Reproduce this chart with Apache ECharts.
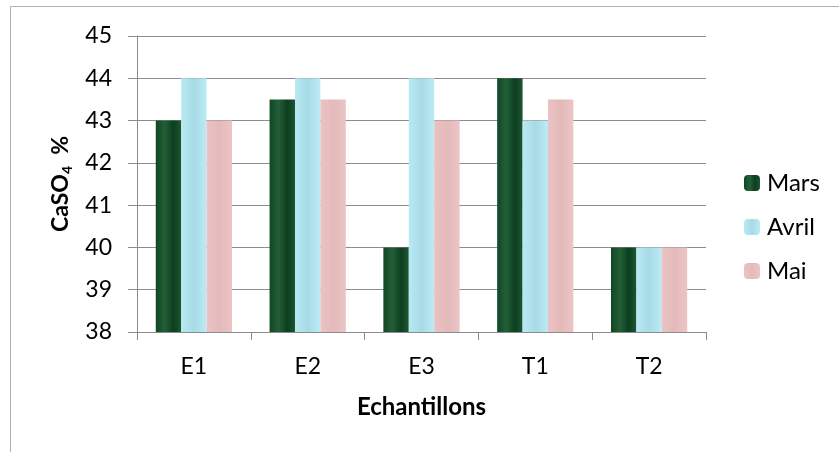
<!DOCTYPE html>
<html>
<head>
<meta charset="utf-8">
<script src="https://cdn.jsdelivr.net/npm/echarts@6/dist/echarts.min.js"></script>
<style>
  html, body { margin: 0; padding: 0; background: #fff; }
  #chart { width: 839px; height: 452px; }
</style>
</head>
<body>
<div id="chart"></div>
<script>
// Samples and monthly CaSO4 content (%)
var categories = ['E1', 'E2', 'E3', 'T1', 'T2'];
var mars  = [43, 43.5, 40, 44, 40];
var avril = [44, 44, 44, 43, 40];
var mai   = [43, 43.5, 43, 43.5, 40];
var seriesNames = ['Mars', 'Avril', 'Mai'];

var FONT = 'Lato, "Noto Sans", sans-serif';

// Marbled-looking fills built from gradients
function marsFill() {
  return new echarts.graphic.LinearGradient(0, 0, 1, 0, [
    { offset: 0, color: '#0f4624' },
    { offset: 0.35, color: '#245f38' },
    { offset: 0.7, color: '#0c3e1f' },
    { offset: 1, color: '#1d5732' }
  ]);
}
function avrilFill() {
  return new echarts.graphic.LinearGradient(0, 0, 1, 0, [
    { offset: 0, color: '#b9eaf3' },
    { offset: 0.5, color: '#a6dbe6' },
    { offset: 1, color: '#bdebf3' }
  ]);
}
function maiFill() {
  return new echarts.graphic.LinearGradient(0, 0, 1, 0, [
    { offset: 0, color: '#ebc3c4' },
    { offset: 0.5, color: '#e4b9ba' },
    { offset: 1, color: '#ecc5c6' }
  ]);
}

var chart = echarts.init(document.getElementById('chart'), null, { renderer: 'canvas' });

chart.setOption({
  animation: false,
  backgroundColor: '#ffffff',
  graphic: [{
    type: 'rect',
    shape: { x: 10.5, y: 6.5, width: 900, height: 600 },
    style: { fill: 'none', stroke: '#b0b0b0', lineWidth: 1 },
    silent: true,
    z: -10
  }],
  grid: { left: 137, right: 133, top: 36, bottom: 120 },
  legend: {
    orient: 'vertical',
    left: 744,
    top: 171,
    padding: 0,
    itemWidth: 16,
    itemHeight: 16,
    itemGap: 20,
    data: seriesNames,
    textStyle: { fontFamily: FONT, fontSize: 24, color: '#000', padding: [0, 0, 0, 2] }
  },
  xAxis: {
    type: 'category',
    data: categories,
    name: 'Echantillons',
    nameLocation: 'middle',
    nameGap: 63,
    nameTextStyle: { fontFamily: FONT, fontSize: 24, fontWeight: 'bold', color: '#000' },
    axisLine: { lineStyle: { color: '#8c8c8c', width: 1 } },
    axisTick: { show: true, length: 8, lineStyle: { color: '#8c8c8c' } },
    axisLabel: { fontFamily: FONT, fontSize: 23, color: '#000', margin: 23 }
  },
  yAxis: {
    type: 'value',
    min: 38,
    max: 45,
    interval: 1,
    name: '{a|CaSO}{s|4}{a|  %}',
    nameLocation: 'middle',
    nameGap: 63,
    nameRotate: 90,
    nameTextStyle: {
      rich: {
        a: { fontFamily: FONT, fontSize: 23, fontWeight: 'bold', color: '#000' },
        s: { fontFamily: FONT, fontSize: 14, fontWeight: 'bold', color: '#000', padding: [12, 0, 0, 0] }
      }
    },
    axisLine: { show: true, lineStyle: { color: '#8c8c8c', width: 1 } },
    axisTick: { show: true, length: 9, lineStyle: { color: '#8c8c8c' } },
    splitLine: { show: true, lineStyle: { color: '#8c8c8c', width: 1 } },
    axisLabel: { fontFamily: FONT, fontSize: 23, color: '#000', margin: 25 }
  },
  series: [
    { name: 'Mars', type: 'bar', data: mars, barGap: '0%', barCategoryGap: '33%',
      itemStyle: { color: marsFill() } },
    { name: 'Avril', type: 'bar', data: avril, barGap: '0%', barCategoryGap: '33%',
      itemStyle: { color: avrilFill() } },
    { name: 'Mai', type: 'bar', data: mai, barGap: '0%', barCategoryGap: '33%',
      itemStyle: { color: maiFill() } }
  ]
});
</script>
</body>
</html>
